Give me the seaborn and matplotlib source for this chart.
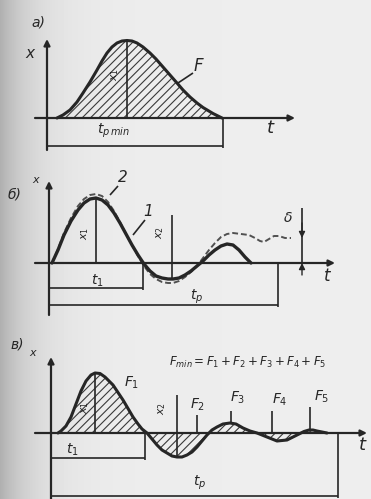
import numpy as np
import matplotlib
matplotlib.use("Agg")
import matplotlib.pyplot as plt
import seaborn as sns

sns.set_theme(style="white")
plt.rcParams["font.family"] = ["DejaVu Sans"]
plt.rcParams["mathtext.fontset"] = "dejavusans"
plt.rcParams["hatch.linewidth"] = 0.8

INK = "#262626"

# ---------- data (t, x in 1/10 px units) ----------
# panel a: single pulse
a_t = [1.0, 1.6, 2.3, 3.0, 3.6, 4.3, 5.0, 5.5, 6.0, 6.5, 7.0, 7.5, 8.0, 8.5, 9.0,
       9.6, 10.3, 10.9, 11.6, 12.3, 13.0, 13.6, 14.3, 15.0, 15.6, 16.1, 16.6, 17.1, 17.5]
a_x = [0.0, 0.3, 0.8, 1.6, 2.5, 3.6, 4.8, 5.7, 6.5, 7.1, 7.5, 7.7, 7.75, 7.7, 7.5,
       7.1, 6.5, 5.9, 5.1, 4.3, 3.5, 2.8, 2.1, 1.5, 1.05, 0.75, 0.45, 0.2, 0.0]
a_tpmin = 17.6

# panel b: curve 1 (solid) and curve 2 (dashed)
b1_t = [0.3, 0.9, 1.5, 2.2, 2.9, 3.5, 4.1, 4.7, 5.3, 5.9, 6.5, 7.1, 7.7, 8.3, 8.9,
        9.5, 10.1, 10.7, 11.3, 11.9, 12.4, 13.0, 13.6, 14.2, 14.8, 15.4, 16.0,
        16.6, 17.2, 17.8, 18.4, 19.0, 19.6, 20.2]
b1_x = [0.0, 1.3, 2.8, 4.2, 5.3, 6.0, 6.4, 6.5, 6.3, 5.8, 5.0, 4.0, 2.9, 1.8, 0.8,
        -0.1, -0.8, -1.3, -1.5, -1.6, -1.6, -1.5, -1.2, -0.8, -0.3, 0.2, 0.8,
        1.3, 1.7, 1.9, 1.8, 1.3, 0.6, 0.0]
b2_t = [0.3, 0.9, 1.5, 2.2, 2.9, 3.5, 4.1, 4.7, 5.3, 5.9, 6.5, 7.1, 7.7, 8.3, 8.9,
        9.5, 10.1, 10.7, 11.3, 11.9, 12.4, 13.0, 13.6, 14.2, 14.8, 15.4, 16.0,
        16.6, 17.2, 17.8, 18.4, 19.2, 20.0, 20.6, 21.1, 21.5, 22.0, 22.5, 23.0,
        23.6, 24.2]
b2_x = [0.0, 1.4, 3.0, 4.5, 5.7, 6.4, 6.8, 6.9, 6.7, 6.1, 5.2, 4.1, 2.9, 1.8, 0.7,
        -0.3, -1.1, -1.6, -1.9, -2.0, -2.0, -1.8, -1.4, -0.9, -0.3, 0.5, 1.3,
        2.0, 2.6, 2.9, 3.0, 2.9, 2.8, 2.5, 2.2, 2.1, 2.4, 2.7, 2.7, 2.5, 2.5]
b_t1 = 9.4
b_tp = 22.9

# panel c: damped oscillation with hatched areas
c_t = [0.7, 1.0, 1.5, 2.0, 2.5, 3.0, 3.5, 4.0, 4.4, 4.9, 5.4, 6.2, 7.2, 8.2, 8.7,
       9.1, 9.6, 10.1, 10.6, 11.1, 11.6, 12.1, 12.6, 13.1, 13.6, 14.1, 14.6,
       15.1, 15.6, 16.1, 16.6, 17.2, 17.9, 18.5, 19.2, 19.9, 20.6, 21.6, 22.6,
       23.6, 24.6, 25.3, 25.8, 26.2, 26.6, 27.1, 27.6]
c_x = [0.0, 0.2, 0.7, 1.6, 2.9, 4.2, 5.2, 5.8, 6.0, 5.95, 5.6, 4.8, 3.3, 1.6, 0.9,
       0.4, 0.0, -0.6, -1.2, -1.7, -2.0, -2.3, -2.4, -2.4, -2.2, -1.9, -1.4,
       -0.8, -0.2, 0.3, 0.6, 0.9, 1.0, 0.9, 0.5, 0.2, 0.0, -0.4, -0.8,
       -0.7, -0.2, 0.15, 0.3, 0.3, 0.2, 0.1, 0.0]
c_t1 = 9.4
c_tp = 28.7
c_F_labels = ["$F_1$", "$F_2$", "$F_3$", "$F_4$", "$F_5$"]

# ---------- figure ----------
W, H = 371, 499
fig = plt.figure(figsize=(W / 100, H / 100), dpi=100)

# scanned paper background: darker at the left edge
xs = np.linspace(0, 1, W)
shade = 0.93 - 0.24 * np.exp(-xs / 0.09)
bg = np.tile(shade, (H, 1))
bg_ax = fig.add_axes([0, 0, 1, 1], zorder=-5)
bg_ax.imshow(bg, cmap="gray", vmin=0, vmax=1, aspect="auto")
bg_ax.axis("off")


def panel(row0, row1, ox, oy):
    ax = fig.add_axes([0, 1 - row1 / H, 1, (row1 - row0) / H])
    ax.set_xlim(-ox / 10, (W - ox) / 10)
    ax.set_ylim((oy - row1) / 10, (oy - row0) / 10)
    ax.axis("off")
    return ax


def arrow(ax, start, end, lw=1.6):
    ax.annotate("", xy=end, xytext=start,
                arrowprops=dict(arrowstyle="-|>", color=INK, lw=lw,
                                mutation_scale=9, shrinkA=0, shrinkB=0))


def seg(ax, xs_, ys_, lw=1.2):
    ax.plot(xs_, ys_, color=INK, lw=lw, solid_capstyle="butt")


def txt(ax, t, x, s, size=11, rot=0):
    ax.text(t, x, s, fontsize=size, color=INK, style="italic", rotation=rot,
            ha="center", va="center", clip_on=False)


# ---- panel a ----
ax = panel(0, 160, 47, 118)
ax.fill_between(a_t, a_x, 0, facecolor="none", edgecolor="#3a3a3a", hatch="////", lw=0)
sns.lineplot(x=a_t, y=a_x, ax=ax, color=INK, lw=2.2, sort=False)
arrow(ax, (0, -3.2), (0, 7.9))
arrow(ax, (-1.2, 0), (24.8, 0))
seg(ax, [8.0, 8.0], [0, 7.7])
seg(ax, [a_tpmin, a_tpmin], [0, -3.0])
seg(ax, [0, a_tpmin], [-2.8, -2.8])
seg(ax, [14.6, 13.1], [4.5, 3.5])
txt(ax, -0.9, 9.6, "а)", 10)
txt(ax, -1.7, 6.5, "x", 11)
txt(ax, 6.8, 4.4, "$x_1$", 8, 90)
txt(ax, 15.1, 5.2, "F", 12)
txt(ax, 22.3, -1.0, "t", 13)
txt(ax, 6.6, -1.3, "$t_{p\\,min}$", 10)

# ---- panel b ----
ax = panel(160, 320, 49, 263)
sns.lineplot(x=b2_t, y=b2_x, ax=ax, color="#505050", lw=1.4, sort=False,
             linestyle=(0, (3, 1.5)))
sns.lineplot(x=b1_t, y=b1_x, ax=ax, color=INK, lw=2.4, sort=False)
arrow(ax, (0, -5.2), (0, 8.2))
arrow(ax, (-1.4, 0), (28.6, 0))
seg(ax, [4.7, 4.7], [0, 6.5])
seg(ax, [12.3, 12.3], [-1.5, 4.8])
seg(ax, [b_t1, b_t1], [0, -2.7])
seg(ax, [0, b_t1], [-2.5, -2.5])
seg(ax, [b_tp, b_tp], [0, -4.4])
seg(ax, [0, b_tp], [-4.2, -4.2])
seg(ax, [6.9, 6.1], [7.7, 6.8])
seg(ax, [9.6, 8.4], [4.3, 2.8])
seg(ax, [25.3, 25.3], [5.5, 0])
arrow(ax, (25.3, 4.0), (25.3, 2.5), lw=1.0)
arrow(ax, (25.3, -1.2), (25.3, 0), lw=1.0)
txt(ax, -3.4, 6.8, "б)", 10)
txt(ax, -1.3, 8.3, "x", 8)
txt(ax, 3.6, 3.0, "$x_1$", 8, 90)
txt(ax, 11.1, 3.1, "$x_2$", 8, 90)
txt(ax, 7.4, 8.6, "2", 11)
txt(ax, 9.9, 5.1, "1", 11)
txt(ax, 23.9, 4.5, "δ", 10)
txt(ax, 27.8, -1.3, "t", 12)
txt(ax, 4.8, -1.8, "$t_1$", 10)
txt(ax, 14.8, -3.4, "$t_p$", 10)

# ---- panel c ----
ax = panel(320, 499, 51, 433)
ax.fill_between(c_t, c_x, 0, facecolor="none", edgecolor="#3a3a3a", hatch="////", lw=0)
sns.lineplot(x=c_t, y=c_x, ax=ax, color=INK, lw=2.2, sort=False)
arrow(ax, (0, -6.8), (0, 7.6))
arrow(ax, (-1.6, 0), (31.6, 0))
seg(ax, [4.4, 4.4], [0, 6.0])
seg(ax, [12.6, 12.6], [-2.4, 3.8])
seg(ax, [c_t1, c_t1], [0, -2.7])
seg(ax, [0, c_t1], [-2.5, -2.5])
seg(ax, [c_tp, c_tp], [0, -6.5])
seg(ax, [0, c_tp], [-6.3, -6.3])
seg(ax, [14.6, 14.6], [1.8, 0.0])
seg(ax, [18.0, 18.0], [2.2, 1.0])
seg(ax, [22.1, 22.1], [2.2, 0.0])
seg(ax, [25.9, 25.9], [2.6, 0.3])
txt(ax, -3.4, 8.8, "в)", 10)
txt(ax, -1.8, 8.0, "x", 8)
txt(ax, 3.4, 2.6, "$x_1$", 8, 90)
txt(ax, 11.1, 2.5, "$x_2$", 8, 90)
for (lt, lx), lab in zip([(8.1, 5.0), (14.7, 2.8), (18.7, 3.5), (22.9, 3.3), (27.1, 3.6)],
                         c_F_labels):
    txt(ax, lt, lx, lab, 10)
txt(ax, 19.7, 7.1, "$F_{min}=F_1+F_2+F_3+F_4+F_5$", 8.5)
txt(ax, 31.1, -1.2, "t", 13)
txt(ax, 2.1, -1.7, "$t_1$", 10)
txt(ax, 14.9, -5.0, "$t_p$", 10)

fig.savefig("out.png", dpi=100, facecolor=fig.get_facecolor())
